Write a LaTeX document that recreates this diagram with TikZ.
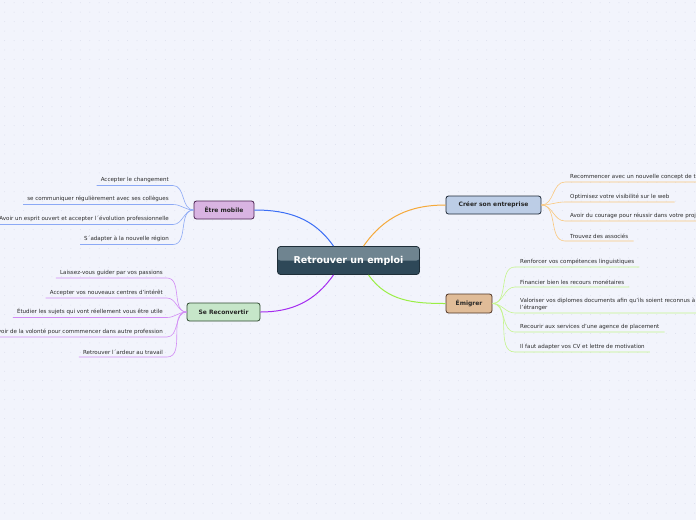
\documentclass[tikz,border=0pt]{standalone}
\usepackage{fontspec}
\setmainfont{DejaVu Sans}
\definecolor{bgcol}{HTML}{F2F4FC}
\definecolor{dotcol}{HTML}{DDE0EE}
\definecolor{leaftext}{HTML}{2B2B2B}
\definecolor{roottop}{HTML}{6F8490}
\definecolor{rootbot}{HTML}{2E4858}
\definecolor{rootline}{HTML}{1E2E38}
\definecolor{bluebr}{HTML}{3B6EF5}
\definecolor{bluelf}{HTML}{8CA9F5}
\definecolor{purplebr}{HTML}{A52CF0}
\definecolor{purplelf}{HTML}{D28CF5}
\definecolor{orangebr}{HTML}{F5A93A}
\definecolor{orangelf}{HTML}{FAC87E}
\definecolor{greenbr}{HTML}{9AEE45}
\definecolor{greenlf}{HTML}{C4F58C}
\definecolor{mobilefill}{HTML}{D9B4E2}
\definecolor{mobileline}{HTML}{4A2050}
\definecolor{reconvfill}{HTML}{C6E6C9}
\definecolor{reconvline}{HTML}{2F4A30}
\definecolor{creerfill}{HTML}{BCCDE6}
\definecolor{creerline}{HTML}{1F2A38}
\definecolor{emigfill}{HTML}{E0BC98}
\definecolor{emigline}{HTML}{4F3424}
\tikzset{
  root/.style={draw=rootline,line width=0.8pt,rounded corners=3pt,
    fill=rootbot,minimum width=142pt,minimum height=28pt,
    text=white,font=\fontsize{9.5}{11}\selectfont\bfseries,
    path picture={\fill[roottop] (path picture bounding box.north west) rectangle (path picture bounding box.east);}},
  topic/.style={draw,line width=0.8pt,rounded corners=2.5pt,minimum height=18pt,
    inner sep=0pt,font=\fontsize{6}{7}\selectfont\bfseries,text=black!85},
  leaf/.style={inner xsep=4pt,inner ysep=2.6pt,text=leaftext,
    font=\fontsize{5.55}{6.5}\selectfont},
  leafL/.style={leaf,anchor=south east},
  leafR/.style={leaf,anchor=south west,inner xsep=5pt,align=left},
  branch/.style={line width=1pt},
  twig/.style={line width=0.6pt}
}
\begin{document}
\begin{tikzpicture}[x=1pt,y=-1pt]
  \useasboundingbox (0,0) rectangle (696,520);
  \fill[bgcol] (0,0) rectangle (696,520);
  \foreach \i in {0,...,73}
    \foreach \j in {0,...,55}
      \fill[dotcol] (4.7+\i*9.45,2.7+\j*9.45) circle (0.5pt);

  % centre
  \node[root] (emploi) at (348.5,260.5) {Retrouver un emploi};

  % topics
  \node[topic,draw=mobileline,fill=mobilefill,minimum width=60pt] (mobile) at (224,210) {Être mobile};
  \node[topic,draw=reconvline,fill=reconvfill,minimum width=73pt] (reconv) at (223.5,312) {Se Reconvertir};
  \node[topic,draw=creerline,fill=creerfill,minimum width=95pt] (creer) at (493.5,205) {Créer son entreprise};
  \node[topic,draw=emigline,fill=emigfill,minimum width=46pt,minimum height=19pt] (emigrer) at (469,303.5) {Émigrer};

  \draw[branch,bluebr] (mobile.east) to[out=0,in=125] ([xshift=-15pt]emploi.north);
  \draw[branch,purplebr] (reconv.east) to[out=0,in=235] ([xshift=-15pt]emploi.south);
  \draw[branch,orangebr] (creer.west) to[out=180,in=55] ([xshift=15pt]emploi.north);
  \draw[branch,greenbr] (emigrer.west) to[out=180,in=305] ([xshift=20pt]emploi.south);

  % Etre mobile
  \node[leafL] (m1) at (173,185.5) {Accepter le changement};
  \node[leafL] (m2) at (173,204.5) {se communiquer régulièrement avec ses collègues};
  \node[leafL] (m3) at (173,224.5) {Avoir un esprit ouvert et accepter l´évolution professionnelle};
  \node[leafL] (m4) at (173,244.5) {S´adapter à la nouvelle région};
  \foreach \n in {m1,m2,m3,m4}
    \draw[twig,bluelf] (\n.south west) -- (\n.south east) to[out=0,in=180] (mobile.west);

  % Se Reconvertir
  \node[leafL] (r1) at (167,278) {Laissez-vous guider par vos passions};
  \node[leafL] (r2) at (167,298) {Accepter vos nouveaux centres d'intérêt};
  \node[leafL] (r3) at (167,317.5) {Étudier les sujets qui vont réellement vous être utile};
  \node[leafL] (r4) at (167,337) {Avoir de la volonté pour commmencer dans autre profession};
  \node[leafL] (r5) at (167,357) {Retrouver l´ardeur au travail};
  \foreach \n in {r1,r2,r3,r4,r5}
    \draw[twig,purplelf] (\n.south west) -- (\n.south east) to[out=0,in=180] (reconv.west);

  % Creer son entreprise
  \node[leafR] (c1) at (565,182) {Recommencer avec un nouvelle concept de travail};
  \node[leafR] (c2) at (565,202) {Optimisez votre visibilité sur le web};
  \node[leafR] (c3) at (565,221) {Avoir du courage pour réussir dans votre projet};
  \node[leafR] (c4) at (565,241) {Trouvez des associés};
  \foreach \n in {c1,c2,c3,c4}
    \draw[twig,orangelf] (creer.east) to[out=0,in=180] (\n.south west) -- (\n.south east);

  % Emigrer
  \node[leafR] (e1) at (515,267) {Renforcer vos compétences linguistiques};
  \node[leafR] (e2) at (515,287) {Financier bien les recours monétaires};
  \node[leafR] (e3) at (515,313) {Valoriser vos diplomes documents afin qu'ils soient reconnus à\\l'étranger};
  \node[leafR] (e4) at (515,332) {Recourir aux services d'une agence de placement};
  \node[leafR] (e5) at (515,352) {Il faut adapter vos CV et lettre de motivation};
  \foreach \n in {e1,e2,e3,e4,e5}
    \draw[twig,greenlf] (emigrer.east) to[out=0,in=180] (\n.south west) -- (\n.south east);
\end{tikzpicture}
\end{document}
